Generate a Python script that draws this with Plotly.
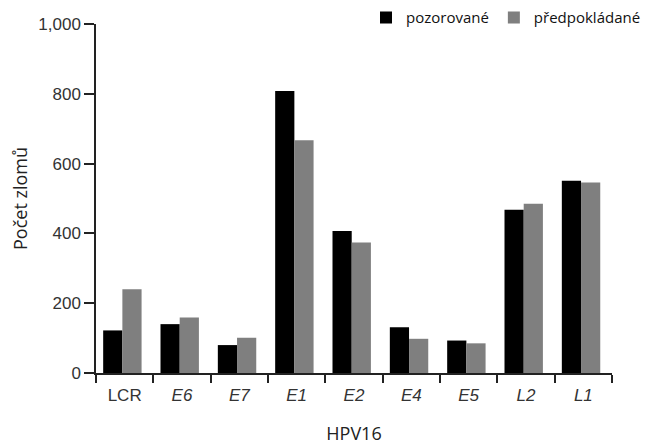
import plotly.graph_objects as go

categories = ["LCR", "<i>E6</i>", "<i>E7</i>", "<i>E1</i>", "<i>E2</i>", "<i>E4</i>", "<i>E5</i>", "<i>L2</i>", "<i>L1</i>"]
observed = [122, 140, 80, 808, 407, 131, 93, 468, 551]
expected = [240, 159, 101, 667, 374, 98, 85, 485, 546]
series_names = ["pozorované", "předpokládané"]
y_ticks = [0, 200, 400, 600, 800, 1000]

fig = go.Figure()
fig.add_trace(go.Bar(x=categories, y=observed, name=series_names[0],
                     width=0.335, offset=-0.375,
                     marker=dict(color="#000000", line=dict(width=0))))
fig.add_trace(go.Bar(x=categories, y=expected, name=series_names[1],
                     width=0.335, offset=-0.04,
                     marker=dict(color="#7f7f7f", line=dict(width=0))))

fig.update_layout(
    width=646, height=445,
    margin=dict(l=96, r=34, t=24, b=72, autoexpand=False),
    paper_bgcolor="white", plot_bgcolor="white",
    barmode="group",
    showlegend=True,
    legend=dict(orientation="h", xref="container", yref="container",
                x=1.0, xanchor="right", y=0.96, yanchor="middle",
                font=dict(family="Open Sans", size=15, color="#111"),
                tracegroupgap=0, bgcolor="rgba(0,0,0,0)"),
    font=dict(family="Liberation Sans, Arial", color="#333"),
)
fig.update_xaxes(
    type="category", tickson="boundaries", automargin=False,
    showline=True, linecolor="#222", linewidth=1.5,
    ticks="outside", ticklen=8, tickcolor="#222", tickwidth=1.5,
    ticklabelstandoff=6,
    tickfont=dict(family="Liberation Sans, Arial", size=17, color="#333"),
    showgrid=False,
    title=dict(text="HPV16", font=dict(family="Open Sans", size=18, color="#222"), standoff=27),
)
fig.update_yaxes(
    range=[0, 1000], tickvals=y_ticks, tickformat=",", automargin=False,
    showline=True, linecolor="#222", linewidth=1.5,
    ticks="outside", ticklen=10, tickcolor="#222", tickwidth=1.5,
    tickfont=dict(family="Liberation Sans, Arial", size=17, color="#333"),
    showgrid=False, zeroline=False,
    title=dict(text="Počet zlomů", font=dict(family="Open Sans", size=18, color="#222"), standoff=6),
)

fig.write_html("out.html", config={"displayModeBar": False},
               post_script="document.body.style.margin='0';")
